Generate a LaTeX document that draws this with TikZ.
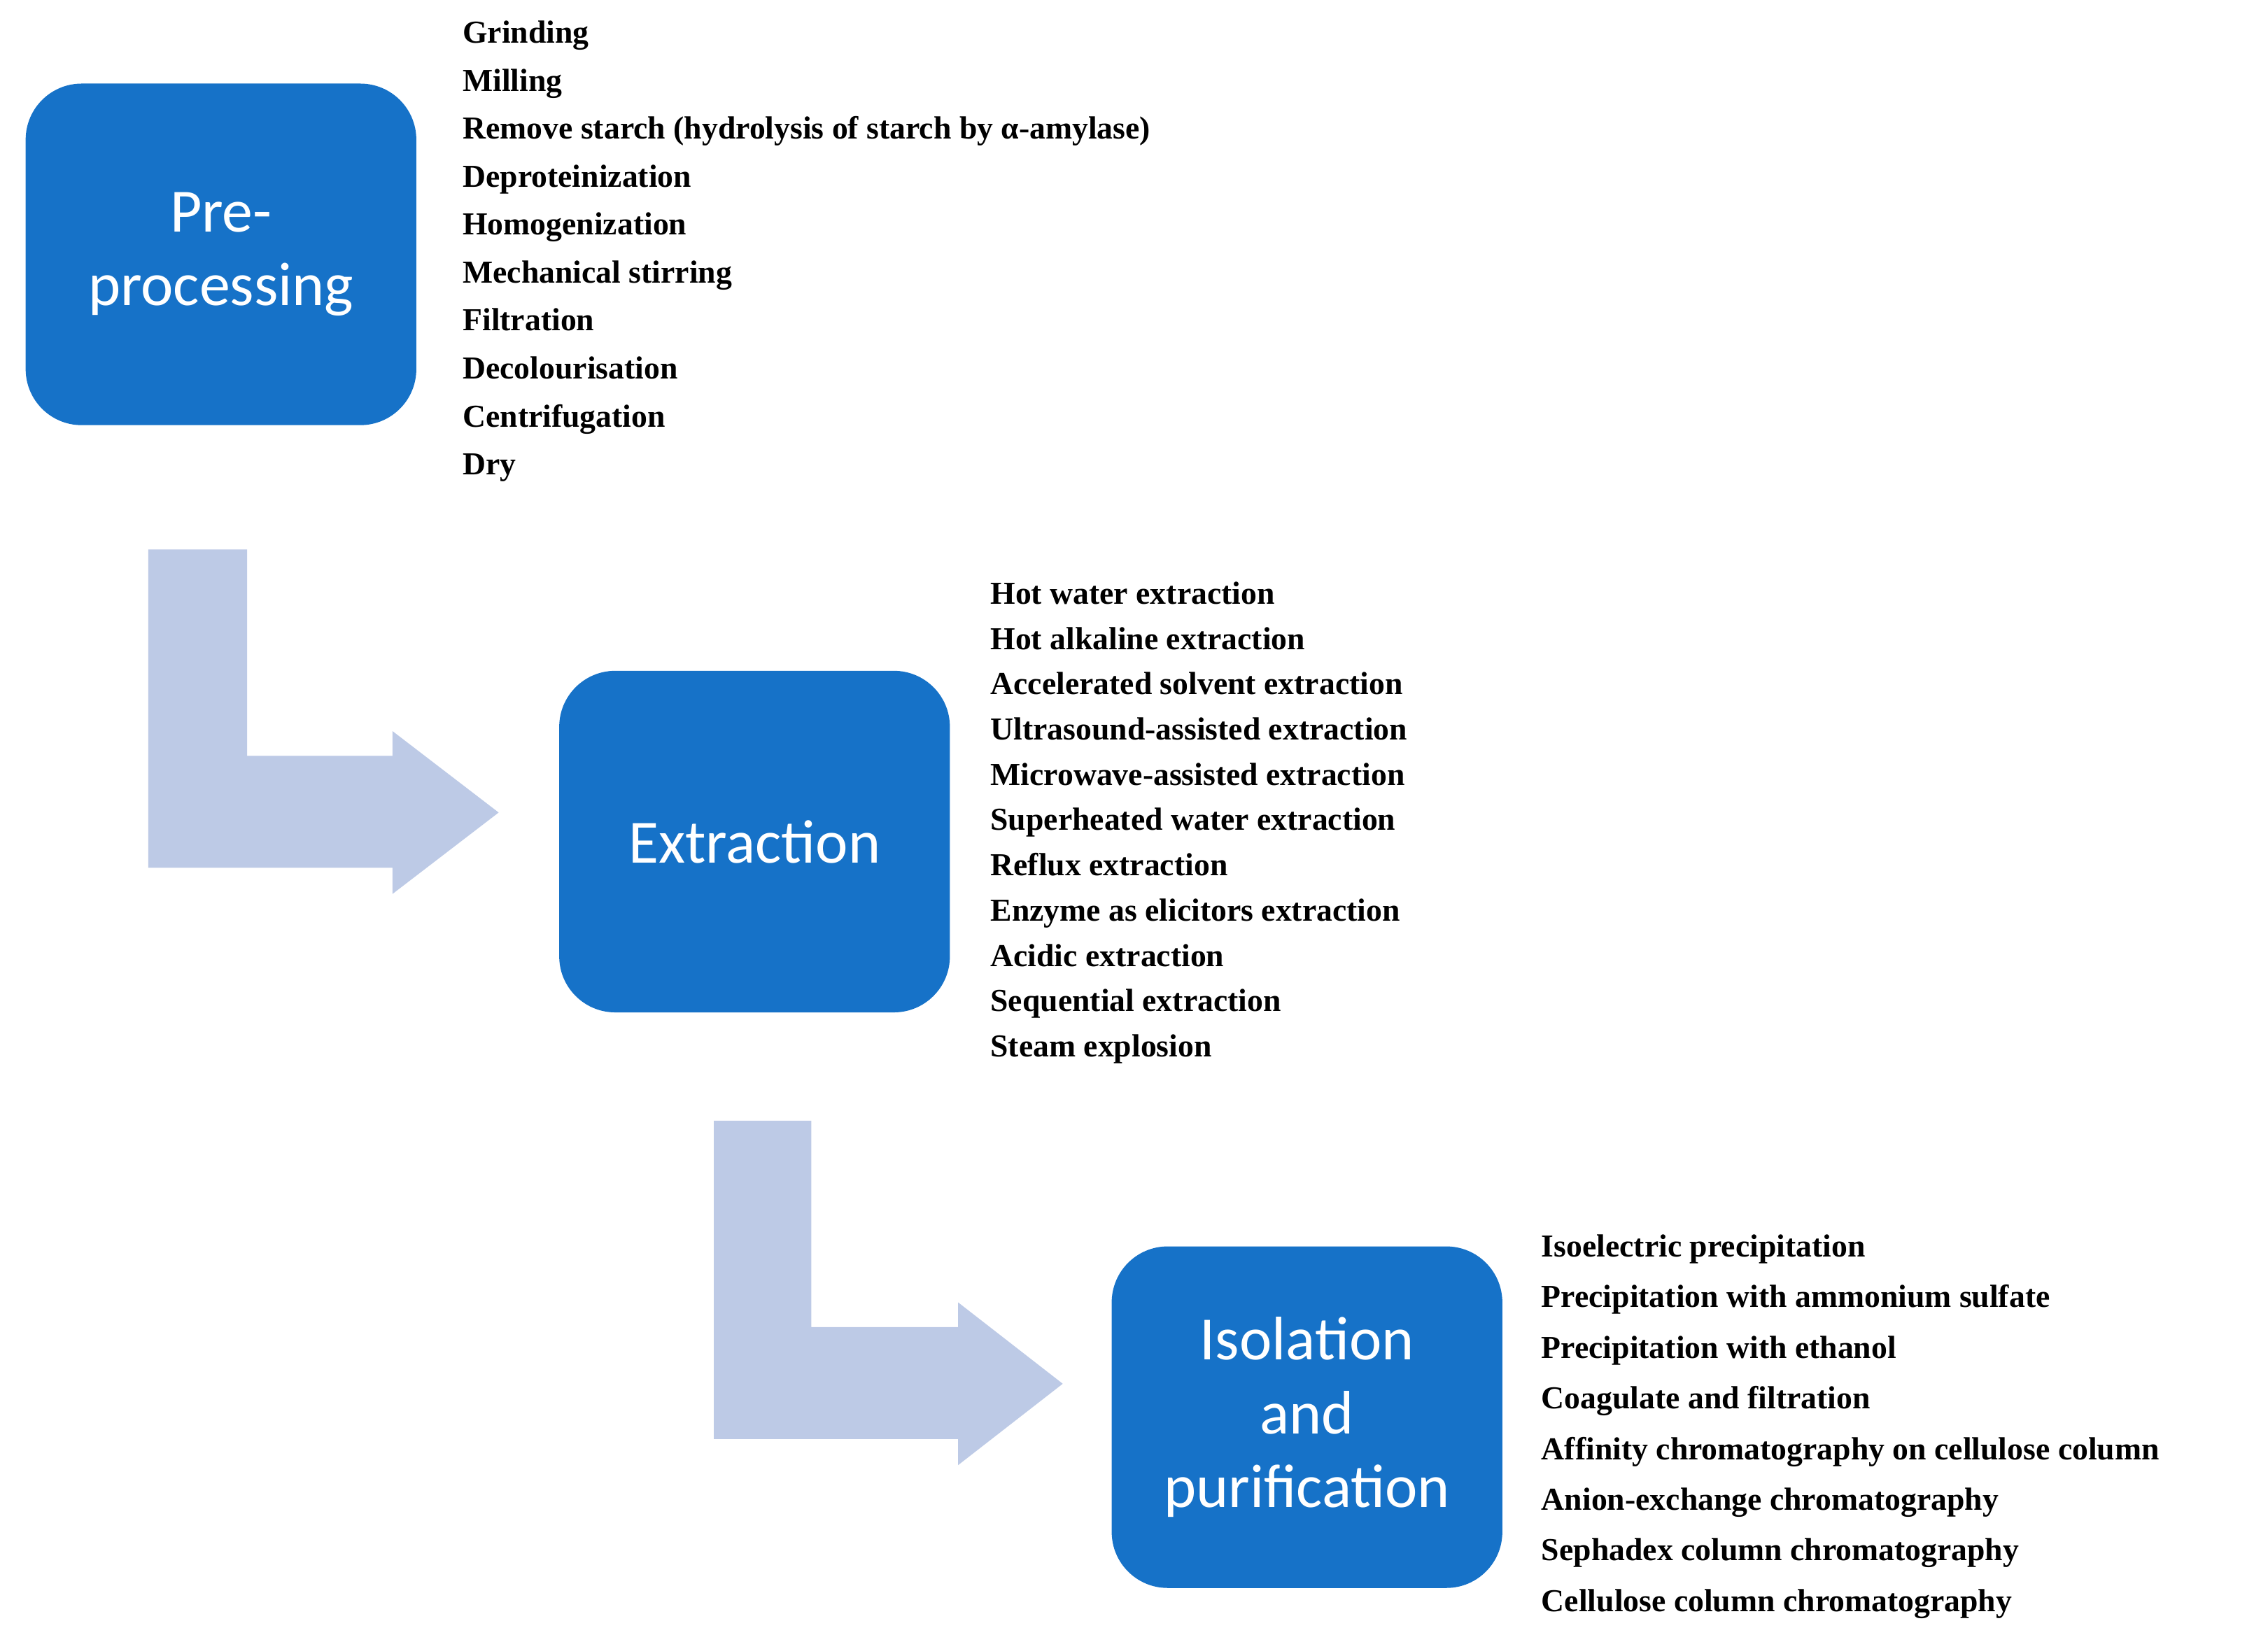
\documentclass[tikz,border=0pt]{standalone}
\usepackage{fontspec}
\setmainfont{Liberation Serif}
\newfontfamily\boxfont{Carlito}
\usetikzlibrary{positioning}
\definecolor{stepblue}{RGB}{22,114,200}
\definecolor{flowblue}{RGB}{189,202,230}
\begin{document}
\begin{tikzpicture}[x=0.02077cm,y=-0.02077cm,
    stage/.style={rectangle, fill=stepblue, text=white, minimum width=5.58cm, minimum height=4.88cm, rounded corners=0.8cm, align=center, font=\boxfont\fontsize{25}{30}\selectfont},
    items/.style={anchor=north west, inner sep=0pt, align=left, font=\bfseries\fontsize{13}{19.5}\selectfont},
    flow/.style={fill=flowblue}
]
\useasboundingbox (0,0) rectangle (1560,1129.5);

\node[stage] (pre) at (152,175) {Pre-\\processing};
\node[stage] (ext) at (519,579) {Extraction};
\node[stage] (iso) at (899,975) {Isolation\\and\\purification};

% bent arrows
\fill[flow] (102,378) -- (170,378) -- (170,520) -- (270,520) -- (270,503) -- (343,559)
  -- (270,615) -- (270,597) -- (102,597) -- cycle;
\fill[flow] (491,771) -- (558,771) -- (558,913) -- (659,913) -- (659,896) -- (731,952)
  -- (659,1008) -- (659,990) -- (491,990) -- cycle;

\node[items] (prelist) at (318,14) {Grinding\\Milling\\Remove starch (hydrolysis of starch by α-amylase)\\Deproteinization\\Homogenization\\Mechanical stirring\\Filtration\\Decolourisation\\Centrifugation\\Dry};
\node[items, font=\bfseries\fontsize{13}{18.4}\selectfont] (extlist) at (681,400) {Hot water extraction\\Hot alkaline extraction\\Accelerated solvent extraction\\Ultrasound-assisted extraction\\Microwave-assisted extraction\\Superheated water extraction\\Reflux extraction\\Enzyme as elicitors extraction\\Acidic extraction\\Sequential extraction\\Steam explosion};
\node[items, font=\bfseries\fontsize{13}{20.6}\selectfont] (isolist) at (1060,849) {Isoelectric precipitation\\Precipitation with ammonium sulfate\\Precipitation with ethanol\\Coagulate and filtration\\Affinity chromatography on cellulose column\\Anion-exchange chromatography\\Sephadex column chromatography\\Cellulose column chromatography};
\end{tikzpicture}
\end{document}
